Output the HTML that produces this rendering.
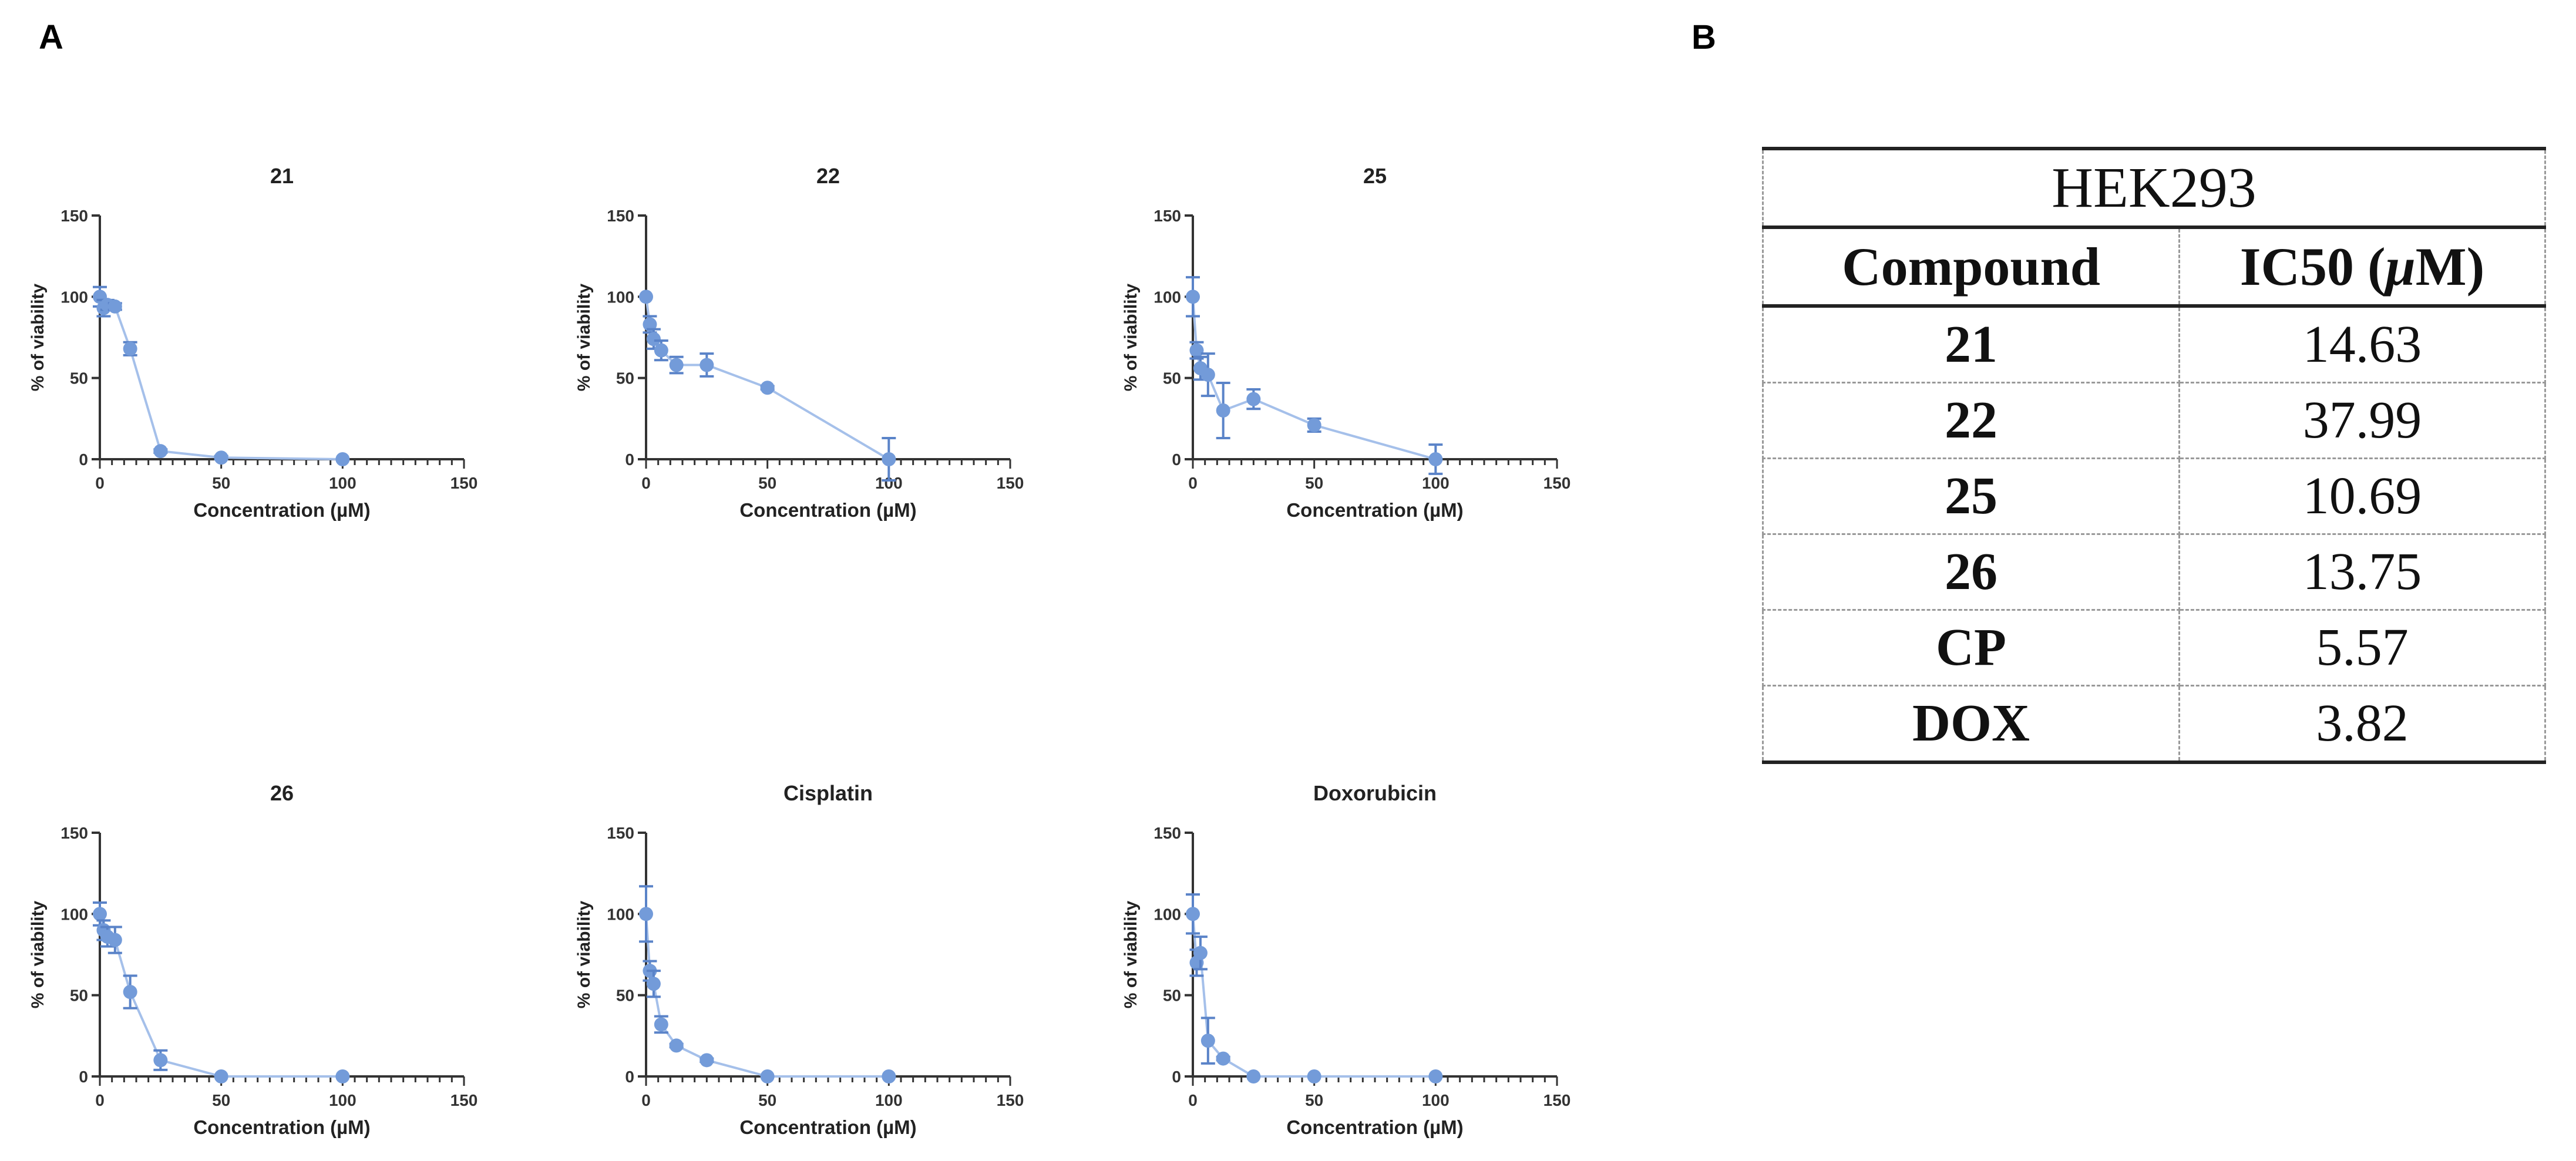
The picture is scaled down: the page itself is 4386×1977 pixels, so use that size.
<!DOCTYPE html>
<html><head><meta charset="utf-8">
<style>
html,body{margin:0;padding:0;background:#fff;}
body{width:4386px;height:1977px;position:relative;overflow:hidden;font-family:"Liberation Sans",sans-serif;}
.pl{position:absolute;font-weight:bold;font-size:58px;}
table{position:absolute;left:3000px;top:250px;width:1335px;border-collapse:collapse;font-family:"Liberation Serif",serif;font-size:90px;color:#111;}
td{border:3px dashed #999;text-align:center;padding:0;line-height:1;}
tr.h1 td{height:128px;border-top:6px solid #222;border-bottom:6px solid #222;font-size:98px;}
tr.h2 td{height:128px;border-bottom:6px solid #222;font-weight:bold;font-size:92px;}
tr.r td{height:126px;}
tr.last td{border-bottom:6px solid #222;}
td.b{font-weight:bold;}
</style></head><body>
<div class="pl" style="left:66px;top:30px;">A</div>
<div class="pl" style="left:2880px;top:30px;">B</div>
<svg id="charts" width="4386" height="1977" style="position:absolute;left:0;top:0;"></svg>
<table>
<tr class="h1"><td colspan="2">HEK293</td></tr>
<tr class="h2"><td style="width:706px">Compound</td><td>IC50 (<i>μ</i>M)</td></tr>
<tr class="r"><td class="b">21</td><td>14.63</td></tr>
<tr class="r"><td class="b">22</td><td>37.99</td></tr>
<tr class="r"><td class="b">25</td><td>10.69</td></tr>
<tr class="r"><td class="b">26</td><td>13.75</td></tr>
<tr class="r"><td class="b">CP</td><td>5.57</td></tr>
<tr class="r last"><td class="b">DOX</td><td>3.82</td></tr>
</table>
<script>
const concentrations = [0, 1.56, 3.125, 6.25, 12.5, 25, 50, 100];
const titles = ["21", "22", "25", "26", "Cisplatin", "Doxorubicin"];
const v21 = [100, 93, 95, 94, 68, 5, 1, 0];
const e21 = [6, 5, 3, 2, 4, 1, 1, 0];
const v22 = [100, 83, 74, 67, 58, 58, 44, 0];
const e22 = [0, 5, 6, 6, 5, 7, 1, 13];
const v25 = [100, 67, 56, 52, 30, 37, 21, 0];
const e25 = [12, 5, 7, 13, 17, 6, 4, 9];
const v26 = [100, 90, 86, 84, 52, 10, 0, 0];
const e26 = [7, 6, 6, 8, 10, 6, 0, 0];
const vCP = [100, 65, 57, 32, 19, 10, 0, 0];
const eCP = [17, 6, 8, 5, 1, 1, 0, 0];
const vDOX = [100, 70, 76, 22, 11, 0, 0, 0];
const eDOX = [12, 8, 10, 14, 1, 0, 0, 0];
const yTicks = [0, 50, 100, 150];
const xTicks = [0, 50, 100, 150];
const series = [[v21,e21],[v22,e22],[v25,e25],[v26,e26],[vCP,eCP],[vDOX,eDOX]];
const NS = "http://www.w3.org/2000/svg";
const svg = document.getElementById('charts');
function mk(tag, attrs, parent){const e=document.createElementNS(NS,tag);for(const k in attrs)e.setAttribute(k,attrs[k]);(parent||svg).appendChild(e);return e;}
const originsX = [170, 1100, 2031];
const originsY = [782, 1833];
const XS = 620/150, YS = 415/150;
series.forEach((s, i) => {
  const ox = originsX[i%3], oy = originsY[Math.floor(i/3)];
  const xf = v => ox + v*XS, yf = v => oy - v*YS;
  const g = mk('g', {});
  
  
  const t = mk('text', {x: xf(75), y: oy-470, 'text-anchor':'middle', 'font-size':36, 'font-weight':'bold', fill:'#222'}, g);
  t.textContent = titles[i];
  
  
  mk('line', {x1:ox, y1:yf(150), x2:ox, y2:oy, stroke:'#333', 'stroke-width':4}, g);
  mk('line', {x1:ox, y1:oy, x2:xf(150), y2:oy, stroke:'#333', 'stroke-width':4}, g);
  yTicks.forEach(v => {
    mk('line', {x1:ox-14, y1:yf(v), x2:ox, y2:yf(v), stroke:'#333', 'stroke-width':4}, g);
    const l = mk('text', {x: ox-20, y: yf(v)+10, 'text-anchor':'end', 'font-size':28, 'font-weight':'bold', fill:'#333'}, g);
    l.textContent = v;
    
    
  });
  for (let v = 0; v <= 150; v += 5) {
    const major = v % 50 === 0;
    mk('line', {x1:xf(v), y1:oy, x2:xf(v), y2:oy+(major?16:10), stroke:'#333', 'stroke-width':3}, g);
  }
  xTicks.forEach(v => {
    const l = mk('text', {x: xf(v), y: oy+50, 'text-anchor':'middle', 'font-size':28, 'font-weight':'bold', fill:'#333'}, g);
    l.textContent = v;
    
    
  });
  const xl = mk('text', {x: xf(75), y: oy+98, 'text-anchor':'middle', 'font-size':33, 'font-weight':'bold', fill:'#222'}, g);
  xl.textContent = 'Concentration (µM)';
  
  
  const yl = mk('text', {x: 0, y: 0, transform:`translate(${ox-96},${yf(75)}) rotate(-90)`, 'text-anchor':'middle', 'font-size':30, 'font-weight':'bold', fill:'#222'}, g);
  yl.textContent = '% of viability';
  
  
  const vals = s[0], errs = s[1];
  const pts = concentrations.map((c, j) => xf(c) + ',' + yf(vals[j])).join(' ');
  const pl = mk('polyline', {points: pts, fill:'none', stroke:'#a5c0ea', 'stroke-width':4}, g);
  
  
  concentrations.forEach((c, j) => {
    const x = xf(c), y = yf(vals[j]), e = errs[j]*YS;
    if (e > 0) {
      const eb = mk('path', {d:`M${x},${y-e}V${y+e}M${x-12},${y-e}H${x+12}M${x-12},${y+e}H${x+12}`, stroke:'#5a83c8', 'stroke-width':4, fill:'none'}, g);
      
      
    }
    const p = mk('circle', {cx:x, cy:y, r:12, fill:'#739bd9'}, g);
    
    
  });
});
</script>
</body></html>
